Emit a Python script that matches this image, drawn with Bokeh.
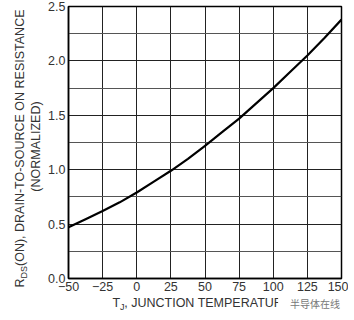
import math
from bokeh.plotting import figure
from bokeh.models import Range1d, FixedTicker, NumeralTickFormatter
from bokeh.layouts import row, column
from bokeh.core.properties import value
from bokeh.embed import file_html
from bokeh.resources import INLINE

# values
temps = [-50, -37.5, -25, -12.5, 0, 12.5, 25, 37.5, 50, 62.5, 75, 87.5, 100, 112.5, 125, 137.5, 150]
rds_norm = [0.47, 0.545, 0.62, 0.70, 0.79, 0.89, 0.99, 1.10, 1.22, 1.345, 1.47, 1.61, 1.75, 1.90, 2.05, 2.21, 2.38]

x_ticks = [-50, -25, 0, 25, 50, 75, 100, 125, 150]
y_ticks = [0.0, 0.5, 1.0, 1.5, 2.0, 2.5]
y_minor = [0.25, 0.75, 1.25, 1.75, 2.25]

FONT = "Liberation Sans"
TXT = "#333333"
LEFT_W, MAIN_W, MAIN_H, XL_H = 44, 304, 296, 16
TOTAL_H = MAIN_H + XL_H
BL, BR = 24, 7   # main frame borders

# ---- main chart ----
p = figure(width=MAIN_W, height=MAIN_H, output_backend="svg", toolbar_location=None,
           x_range=Range1d(-50, 150), y_range=Range1d(0, 2.5),
           min_border_left=BL, min_border_right=BR, min_border_top=6, min_border_bottom=18)
p.background_fill_color = "white"
p.border_fill_color = "white"
p.outline_line_color = "black"
p.outline_line_width = 1.5

p.xaxis.ticker = FixedTicker(ticks=x_ticks)
p.yaxis.ticker = FixedTicker(ticks=y_ticks, minor_ticks=y_minor)
p.yaxis.formatter = NumeralTickFormatter(format="0.0")
for ax in (p.xaxis, p.yaxis):
    ax.major_tick_in = 0
    ax.major_tick_out = 0
    ax.minor_tick_in = 0
    ax.minor_tick_out = 0
    ax.axis_line_color = "black"
    ax.axis_line_width = 1.5
    ax.major_label_text_font = FONT
    ax.major_label_text_font_size = "12.5px"
    ax.major_label_text_color = TXT
    ax.major_label_standoff = 3

p.xgrid.grid_line_color = "#222222"
p.ygrid.grid_line_color = "#222222"
p.ygrid.minor_grid_line_color = "#555555"

p.line(temps, rds_norm, line_color="black", line_width=2.2, line_join="round")

# ---- y-axis label panel (left) ----
ly = figure(width=LEFT_W, height=TOTAL_H, output_backend="svg", toolbar_location=None,
            x_range=Range1d(0, LEFT_W), y_range=Range1d(0, TOTAL_H),
            x_axis_location=None, y_axis_location=None,
            min_border_left=0, min_border_right=0, min_border_top=0, min_border_bottom=0,
            outline_line_color=None)
ly.grid.visible = False
fs = "12.5px"
fs_sub = "9px"
ly.text(x=[19], y=[25], text=["R"], angle=math.pi / 2, text_font=value(FONT),
        text_font_size=fs, text_color=TXT, text_baseline="middle", text_align="left")
ly.text(x=[23], y=[34], text=["DS"], angle=math.pi / 2, text_font=value(FONT),
        text_font_size=fs_sub, text_color=TXT, text_baseline="middle", text_align="left")
ly.text(x=[19], y=[46.5], text=["(ON), DRAIN-TO-SOURCE ON RESISTANCE"], angle=math.pi / 2,
        text_font=value(FONT), text_font_size=fs, text_color=TXT,
        text_baseline="middle", text_align="left")
ly.text(x=[35], y=[166], text=["(NORMALIZED)"], angle=math.pi / 2, text_font=value(FONT),
        text_font_size=fs, text_color=TXT, text_baseline="middle", text_align="center")

# ---- x-axis label panel (bottom), x aligned with the main frame's temperature scale ----
px_per_deg = (MAIN_W - BL - BR) / 200.0
x_hi = -50 + (MAIN_W - BL) / px_per_deg
lx = figure(width=MAIN_W, height=XL_H, output_backend="svg", toolbar_location=None,
            x_range=Range1d(-50, x_hi), y_range=Range1d(0, XL_H),
            x_axis_location=None, y_axis_location=None,
            min_border_left=BL, min_border_right=0, min_border_top=0, min_border_bottom=0,
            outline_line_color=None)
lx.grid.visible = False
fsx = "12.5px"
lx.text(x=[-16.9], y=[10], text=["T"], text_font=value(FONT), text_font_size=fsx,
        text_color=TXT, text_baseline="middle", text_align="left")
lx.text(x=[-11.3], y=[6], text=["J"], text_font=value(FONT), text_font_size=fs_sub,
        text_color=TXT, text_baseline="middle", text_align="left")
lx.text(x=[-8.1], y=[10], text=[", JUNCTION TEMPERATURE (°C)"], text_font=value(FONT),
        text_font_size=fsx, text_color=TXT, text_baseline="middle", text_align="left")
# watermark
lx.rect(x=[132.5], y=[8], width=[50], height=[16], fill_color="white", line_color=None)
lx.text(x=[154], y=[9], text=["半导体在线"], text_font=value("Noto Sans CJK SC"),
        text_font_size="10px", text_color="#777777", text_baseline="middle", text_align="right")

layout = row(ly, column(p, lx, spacing=0), spacing=0)
open("out.html", "w").write(file_html(layout, INLINE))
